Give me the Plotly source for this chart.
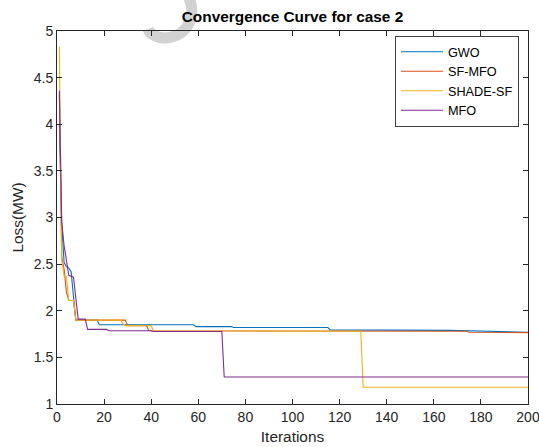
import plotly.graph_objects as go

# Best-so-far loss per iteration (change points of each step curve)
gwo_iter = [1, 2, 3, 4, 5, 6, 7, 8, 17, 18, 58, 59, 74, 75, 115, 116, 167, 200]
gwo_loss = [4.00, 2.95, 2.52, 2.47, 2.46, 2.42, 2.15, 1.90, 1.90, 1.85, 1.85, 1.83,
            1.83, 1.82, 1.82, 1.795, 1.79, 1.77]

sfmfo_iter = [1, 2, 3, 4, 5, 7, 8, 29, 30, 38, 39, 174, 175, 200]
sfmfo_loss = [4.33, 2.57, 2.45, 2.20, 2.11, 2.11, 1.90, 1.90, 1.84, 1.84, 1.785,
              1.78, 1.77, 1.765]

shade_iter = [1, 2, 3, 4, 5, 7, 8, 27, 28, 29, 40, 41, 129, 130, 200]
shade_loss = [4.83, 2.55, 2.37, 2.37, 2.11, 2.11, 1.90, 1.90, 1.86, 1.84, 1.84,
              1.785, 1.78, 1.18, 1.18]

mfo_iter = [1, 2, 3, 5, 7, 9, 12, 13, 21, 22, 40, 41, 70, 71, 200]
mfo_loss = [4.36, 2.95, 2.70, 2.38, 2.36, 1.91, 1.91, 1.80, 1.80, 1.785, 1.785,
            1.778, 1.778, 1.29, 1.29]

series = [
    ("GWO", gwo_iter, gwo_loss, "#0072BD"),
    ("SF-MFO", sfmfo_iter, sfmfo_loss, "#D95319"),
    ("SHADE-SF", shade_iter, shade_loss, "#EDB120"),
    ("MFO", mfo_iter, mfo_loss, "#7E2F8E"),
]

fig = go.Figure()
for name, xs, ys, color in series:
    fig.add_trace(go.Scatter(x=xs, y=ys, mode="lines", name=name,
                             line=dict(color=color, width=1.1)))

W, H = 539, 447
L, R, T, B = 57, 11, 31, 43
pw, ph = W - L - R, H - T - B


def px(x):
    return (x - L) / pw


def py(y):
    return (H - B - y) / ph


# light grey arc mark near the title
arc = "M {:.4f},{:.4f} C {:.4f},{:.4f} {:.4f},{:.4f} {:.4f},{:.4f} C {:.4f},{:.4f} {:.4f},{:.4f} {:.4f},{:.4f}".format(
    px(148), py(29), px(153), py(42), px(182), py(42), px(190), py(21),
    px(193), py(13), px(192), py(4), px(188), py(-4))

axis_common = dict(showline=True, linecolor="#262626", linewidth=1, mirror="ticks",
                   ticks="inside", ticklen=5, tickcolor="#262626", showgrid=False,
                   zeroline=False, automargin=False, ticklabeloverflow="allow",
                   tickfont=dict(size=14, color="#262626"))

fig.update_layout(
    width=W, height=H,
    margin=dict(l=L, r=R, t=T, b=B),
    paper_bgcolor="white", plot_bgcolor="rgba(0,0,0,0)",
    font=dict(family="Liberation Sans, Arial, sans-serif", size=14, color="#262626"),
    title=dict(text="<b>Convergence Curve for case 2</b>", x=0.5, xref="paper",
               y=1 - 17 / H, yanchor="middle", xanchor="center",
               font=dict(size=15.4, color="#000000")),
    xaxis=dict(range=[0, 200], dtick=20, tick0=0,
               title=dict(text="Iterations", font=dict(size=15.4), standoff=7),
               **axis_common),
    yaxis=dict(range=[1, 5], dtick=0.5, tick0=1,
               title=dict(text="Loss(MW)", font=dict(size=15.4), standoff=6),
               **axis_common),
    legend=dict(x=px(395), y=py(36), xanchor="left", yanchor="top",
                bgcolor="white", bordercolor="#404040", borderwidth=1,
                itemwidth=42,
                font=dict(size=12.7, color="#000000"), tracegroupgap=0),
    showlegend=True,
    shapes=[dict(type="path", path=arc, xref="paper", yref="paper",
                 line=dict(color="#d2d2d2", width=11), layer="below")],
)

fig.write_html("out.html")
